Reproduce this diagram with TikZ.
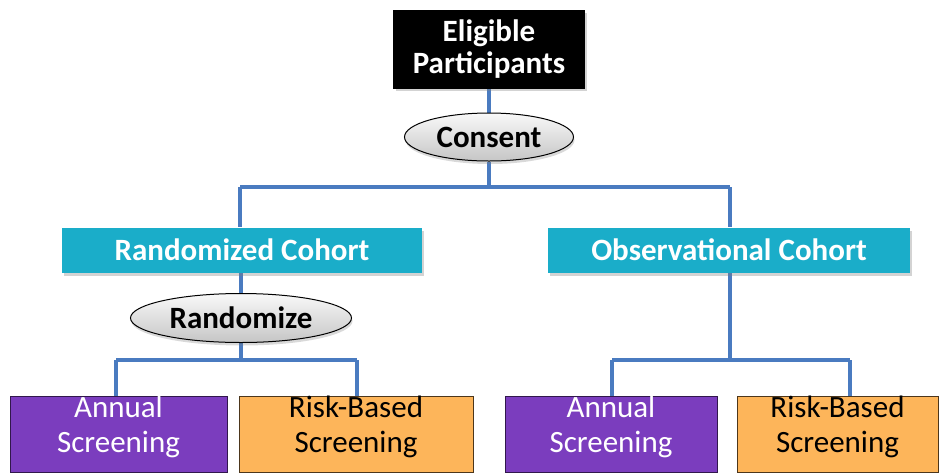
\documentclass[tikz,border=0pt]{standalone}
\usepackage{fontspec}
\setmainfont{Carlito}
\usetikzlibrary{shapes.geometric,shadows,backgrounds}
\definecolor{conn}{HTML}{4A7BC0}
\definecolor{teal}{HTML}{1AADC9}
\definecolor{purp}{HTML}{7B3DBE}
\definecolor{orng}{HTML}{FDB55A}
\tikzset{
  topbox/.style={draw=black, fill=black, text=white, font=\fontsize{31}{32}\selectfont\bfseries, align=center, minimum width=191pt, minimum height=78pt, inner sep=0pt, drop shadow={opacity=0.35, shadow xshift=2pt, shadow yshift=-3pt}},
  oval/.style={ellipse, draw=black, line width=1pt, top color=gray!5, bottom color=gray!45, font=\fontsize{31}{32}\selectfont\bfseries, inner sep=0pt, drop shadow={opacity=0.3, shadow xshift=1pt, shadow yshift=-3pt}},
  cohort/.style={fill=teal, text=white, font=\fontsize{31}{32}\selectfont\bfseries, minimum width=360pt, minimum height=45pt, inner sep=0pt, drop shadow={opacity=0.35, shadow xshift=2pt, shadow yshift=-3pt}},
  leafA/.style={draw=black!60!purp, line width=0.8pt, fill=purp, minimum height=76pt, inner sep=0pt},
  leafB/.style={draw=black!70!orng, line width=0.8pt, fill=orng, minimum height=76pt, inner sep=0pt},
  lblA/.style={text=white, font=\fontsize{31}{35}\selectfont, align=center, yshift=7pt},
  lblB/.style={text=black, font=\fontsize{31}{35}\selectfont, align=center, yshift=7pt},
  wire/.style={draw=conn, line width=3.5pt},
}
\begin{document}
\begin{tikzpicture}[x=1pt,y=-1pt]
\useasboundingbox (0,0) rectangle (948,475);
\coordinate (h1) at (489,187);
\coordinate (h1l) at (240,187);
\coordinate (h1r) at (730,187);
\coordinate (h2) at (241,360);
\coordinate (h2l) at (116,360);
\coordinate (h2r) at (357,360);
\coordinate (h3) at (730,360);
\coordinate (h3l) at (612,360);
\coordinate (h3r) at (850,360);

\node[topbox] (elig) at (489,49) {Eligible\\Participants};
\node[oval, minimum width=169pt, minimum height=48pt] (cons) at (489,137) {Consent};
\node[cohort] (rand) at (242,250) {Randomized Cohort};
\node[cohort, minimum width=362pt] (obs) at (729,250) {Observational Cohort};
\node[oval, minimum width=221pt, minimum height=49pt] (rzd) at (241,318) {Randomize};

\node[leafA, minimum width=217pt, label={[lblA]center:Annual\\Screening}] (a1) at (118.5,434) {};
\node[leafB, minimum width=234pt, label={[lblB]center:Risk-Based\\Screening}] (b1) at (356,434) {};
\node[leafA, minimum width=212pt, label={[lblA]center:Annual\\Screening}] (a2) at (611,434) {};
\node[leafB, minimum width=201pt, label={[lblB]center:Risk-Based\\Screening}] (b2) at (837.5,434) {};

\begin{scope}[on background layer]
\path[wire] (elig.south) -- (cons.north);
\path[wire] (cons.south) -- (h1);
\path[wire] (h1l) -- (h1r);
\path[wire] (h1l) -- (rand.north -| h1l);
\path[wire] (h1r) -- (obs.north -| h1r);
\path[wire] (rand.south -| rzd.north) -- (rzd.north);
\path[wire] (rzd.south) -- (h2);
\path[wire] (h2l) -- (h2r);
\path[wire] (h2l) -- (a1.north -| h2l);
\path[wire] (h2r) -- (b1.north -| h2r);
\path[wire] (obs.south -| h3) -- (h3);
\path[wire] (h3l) -- (h3r);
\path[wire] (h3l) -- (a2.north -| h3l);
\path[wire] (h3r) -- (b2.north -| h3r);
\end{scope}
\end{tikzpicture}
\end{document}
